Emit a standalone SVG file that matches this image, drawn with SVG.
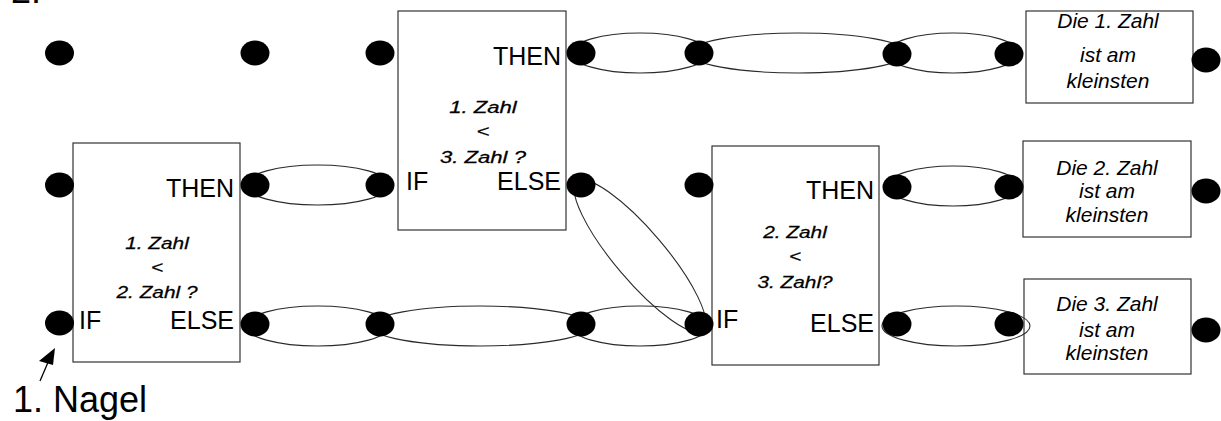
<svg xmlns="http://www.w3.org/2000/svg" width="1221" height="421" viewBox="0 0 1221 421">
  <style>
    .bg { fill: #ffffff; }
    .box { fill: #ffffff; stroke: #333333; stroke-width: 1.2; }
    .band { fill: none; stroke: #2a2a2a; stroke-width: 1.1; }
    .nail { fill: #000000; }
    .lbl { font-family: "Liberation Sans", Arial, sans-serif; font-size: 25px; fill: #000000; }
    .end { text-anchor: end; }
    .cond { font-family: "Liberation Sans", Arial, sans-serif; font-style: italic; font-size: 16px; text-anchor: middle; fill: #000000; stroke: #000000; stroke-width: 0.25; }
    .res { font-family: "Liberation Sans", Arial, sans-serif; font-style: italic; font-size: 21px; text-anchor: middle; fill: #000000; }
    .big { font-family: "Liberation Sans", Arial, sans-serif; font-size: 36px; fill: #000000; }
  </style>

  <rect class="bg" x="0" y="0" width="1221" height="421"/>

  <!-- section number, cut at the top edge -->
  <text class="big" x="11" y="2.5">2.</text>

  <!-- decision boxes; the condition lines use a horizontally widened face -->
  <g id="decision-1">
    <rect class="box" x="73" y="143" width="167" height="219"/>
    <text class="lbl end" x="234" y="197">THEN</text>
    <text class="lbl" x="79" y="329">IF</text>
    <text class="lbl end" x="234" y="329">ELSE</text>
    <g transform="translate(157 0) scale(1.3 1)">
      <text class="cond" x="0" y="249">1. Zahl</text>
      <text class="cond" x="0" y="273">&lt;</text>
      <text class="cond" x="0" y="298">2. Zahl ?</text>
    </g>
  </g>

  <g id="decision-2">
    <rect class="box" x="398" y="11" width="168" height="219"/>
    <text class="lbl end" x="561" y="65">THEN</text>
    <text class="lbl" x="406" y="190">IF</text>
    <text class="lbl end" x="561" y="190">ELSE</text>
    <g transform="translate(483 0) scale(1.38 1)">
      <text class="cond" x="0" y="113">1. Zahl</text>
      <text class="cond" x="0" y="137">&lt;</text>
      <text class="cond" x="0" y="163">3. Zahl ?</text>
    </g>
  </g>

  <g id="decision-3">
    <rect class="box" x="712" y="146" width="167" height="219"/>
    <text class="lbl end" x="874" y="199">THEN</text>
    <text class="lbl" x="716" y="328">IF</text>
    <text class="lbl end" x="874" y="332">ELSE</text>
    <g transform="translate(795 0) scale(1.3 1)">
      <text class="cond" x="0" y="238">2. Zahl</text>
      <text class="cond" x="0" y="262">&lt;</text>
      <text class="cond" x="0" y="288">3. Zahl?</text>
    </g>
  </g>

  <!-- result boxes -->
  <g id="result-1">
    <rect class="box" x="1026" y="11" width="167" height="92"/>
    <text class="res" x="1108" y="28">Die 1. Zahl</text>
    <text class="res" x="1108" y="62">ist am</text>
    <text class="res" x="1108" y="88">kleinsten</text>
  </g>

  <g id="result-2">
    <rect class="box" x="1023" y="141" width="168" height="96"/>
    <text class="res" x="1107" y="175">Die 2. Zahl</text>
    <text class="res" x="1107" y="198">ist am</text>
    <text class="res" x="1107" y="222">kleinsten</text>
  </g>

  <g id="result-3">
    <rect class="box" x="1024" y="279" width="167" height="95"/>
    <text class="res" x="1107" y="311">Die 3. Zahl</text>
    <text class="res" x="1107" y="337">ist am</text>
    <text class="res" x="1107" y="360">kleinsten</text>
  </g>

  <!-- rubber bands between nails, and the pointer to the first nail -->
  <g id="connectors">
    <ellipse class="band" cx="640" cy="53" rx="69" ry="20"/>
    <ellipse class="band" cx="798" cy="53" rx="109" ry="20"/>
    <ellipse class="band" cx="953" cy="53" rx="66" ry="20"/>

    <ellipse class="band" cx="317.5" cy="185" rx="72" ry="20"/>
    <ellipse class="band" cx="953" cy="186" rx="66" ry="20"/>

    <ellipse class="band" cx="317.5" cy="326" rx="72" ry="20"/>
    <ellipse class="band" cx="480.5" cy="326" rx="110" ry="20"/>
    <ellipse class="band" cx="640" cy="326" rx="69" ry="20"/>
    <ellipse class="band" cx="956" cy="326" rx="74" ry="20"/>

    <ellipse class="band" cx="640" cy="256" rx="97" ry="25" transform="rotate(49.7 640 256)"/>

    <line x1="40" y1="381" x2="49" y2="360" stroke="#000000" stroke-width="1.3"/>
    <polygon points="55,348 39,361 53,365" fill="#000000"/>
  </g>
  <text class="big" x="13" y="412">1. Nagel</text>

  <!-- nails -->
  <g id="nails-top">
    <ellipse id="nail-t1" class="nail" cx="59.5" cy="53" rx="14.5" ry="12.5"/>
    <ellipse id="nail-t2" class="nail" cx="255" cy="53" rx="14.5" ry="12.5"/>
    <ellipse id="nail-t3" class="nail" cx="380" cy="53" rx="14.5" ry="12.5"/>
    <ellipse id="nail-t4" class="nail" cx="581" cy="53" rx="14.5" ry="12.5"/>
    <ellipse id="nail-t5" class="nail" cx="699" cy="53" rx="14.5" ry="12.5"/>
    <ellipse id="nail-t6" class="nail" cx="897" cy="54" rx="14.5" ry="12.5"/>
    <ellipse id="nail-t7" class="nail" cx="1009" cy="54" rx="14.5" ry="12.5"/>
    <ellipse id="nail-t8" class="nail" cx="1206" cy="60" rx="14.5" ry="12.5"/>
  </g>
  <g id="nails-middle">
    <ellipse id="nail-m1" class="nail" cx="59.5" cy="185" rx="14.5" ry="12.5"/>
    <ellipse id="nail-m2" class="nail" cx="255" cy="185" rx="14.5" ry="12.5"/>
    <ellipse id="nail-m3" class="nail" cx="380" cy="185" rx="14.5" ry="12.5"/>
    <ellipse id="nail-m4" class="nail" cx="581" cy="185" rx="14.5" ry="12.5"/>
    <ellipse id="nail-m5" class="nail" cx="699" cy="185" rx="14.5" ry="12.5"/>
    <ellipse id="nail-m6" class="nail" cx="897" cy="187" rx="14.5" ry="12.5"/>
    <ellipse id="nail-m7" class="nail" cx="1009" cy="187" rx="14.5" ry="12.5"/>
    <ellipse id="nail-m8" class="nail" cx="1206" cy="191" rx="14.5" ry="12.5"/>
  </g>
  <g id="nails-bottom">
    <ellipse id="nail-b1" class="nail" cx="59.5" cy="323" rx="14.5" ry="12.5"/>
    <ellipse id="nail-b2" class="nail" cx="255" cy="324" rx="14.5" ry="12.5"/>
    <ellipse id="nail-b3" class="nail" cx="380" cy="324" rx="14.5" ry="12.5"/>
    <ellipse id="nail-b4" class="nail" cx="581" cy="324" rx="14.5" ry="12.5"/>
    <ellipse id="nail-b5" class="nail" cx="699" cy="324" rx="14.5" ry="12.5"/>
    <ellipse id="nail-b6" class="nail" cx="897" cy="324" rx="14.5" ry="12.5"/>
    <ellipse id="nail-b7" class="nail" cx="1009" cy="324" rx="14.5" ry="12.5"/>
    <ellipse id="nail-b8" class="nail" cx="1206" cy="330" rx="14.5" ry="12.5"/>
  </g>
</svg>
